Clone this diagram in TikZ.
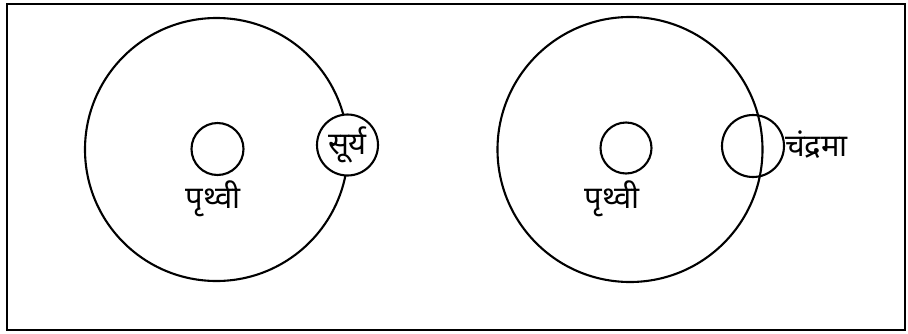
\documentclass[tikz,border=0pt]{standalone}
\usepackage{fontspec}
\newfontfamily\devfont[Script=Devanagari]{Noto Sans}
\tikzset{
  orbit/.style={draw, circle, line width=2.1pt, inner sep=0pt},
  body/.style={draw, circle, line width=2.1pt, inner sep=0pt},
  lbl/.style={font=\devfont\fontsize{31}{36}\selectfont, inner sep=0pt},
}
\begin{document}
\begin{tikzpicture}[x=1pt,y=-1pt]
\useasboundingbox (0,0) rectangle (908,333);
\draw[line width=2.6pt] (7,4) rectangle (905,330);
% left
\node[orbit, minimum size=263pt] (orbL) at (216.5,149.5) {};
\node[body, minimum size=52pt] (earthL) at (217.5,149) {};
\node[lbl] (earthLlbl) at (213,199) {पृथ्वी};
\node[body, fill=white, minimum size=61pt] (sun) at (347.5,145) {};
\node[lbl] (sunlbl) at (sun.center) {सूर्य};
% right
\node[orbit, minimum size=265pt] (orbR) at (630,149.5) {};
\node[body, minimum size=51pt] (earthR) at (626,148) {};
\node[lbl] (earthRlbl) at (612,199) {पृथ्वी};
\node[body, minimum size=62pt] (moon) at (753,146) {};
\node[lbl, anchor=west] (moonlbl) at (785,145) {चंद्रमा};
\end{tikzpicture}
\end{document}
